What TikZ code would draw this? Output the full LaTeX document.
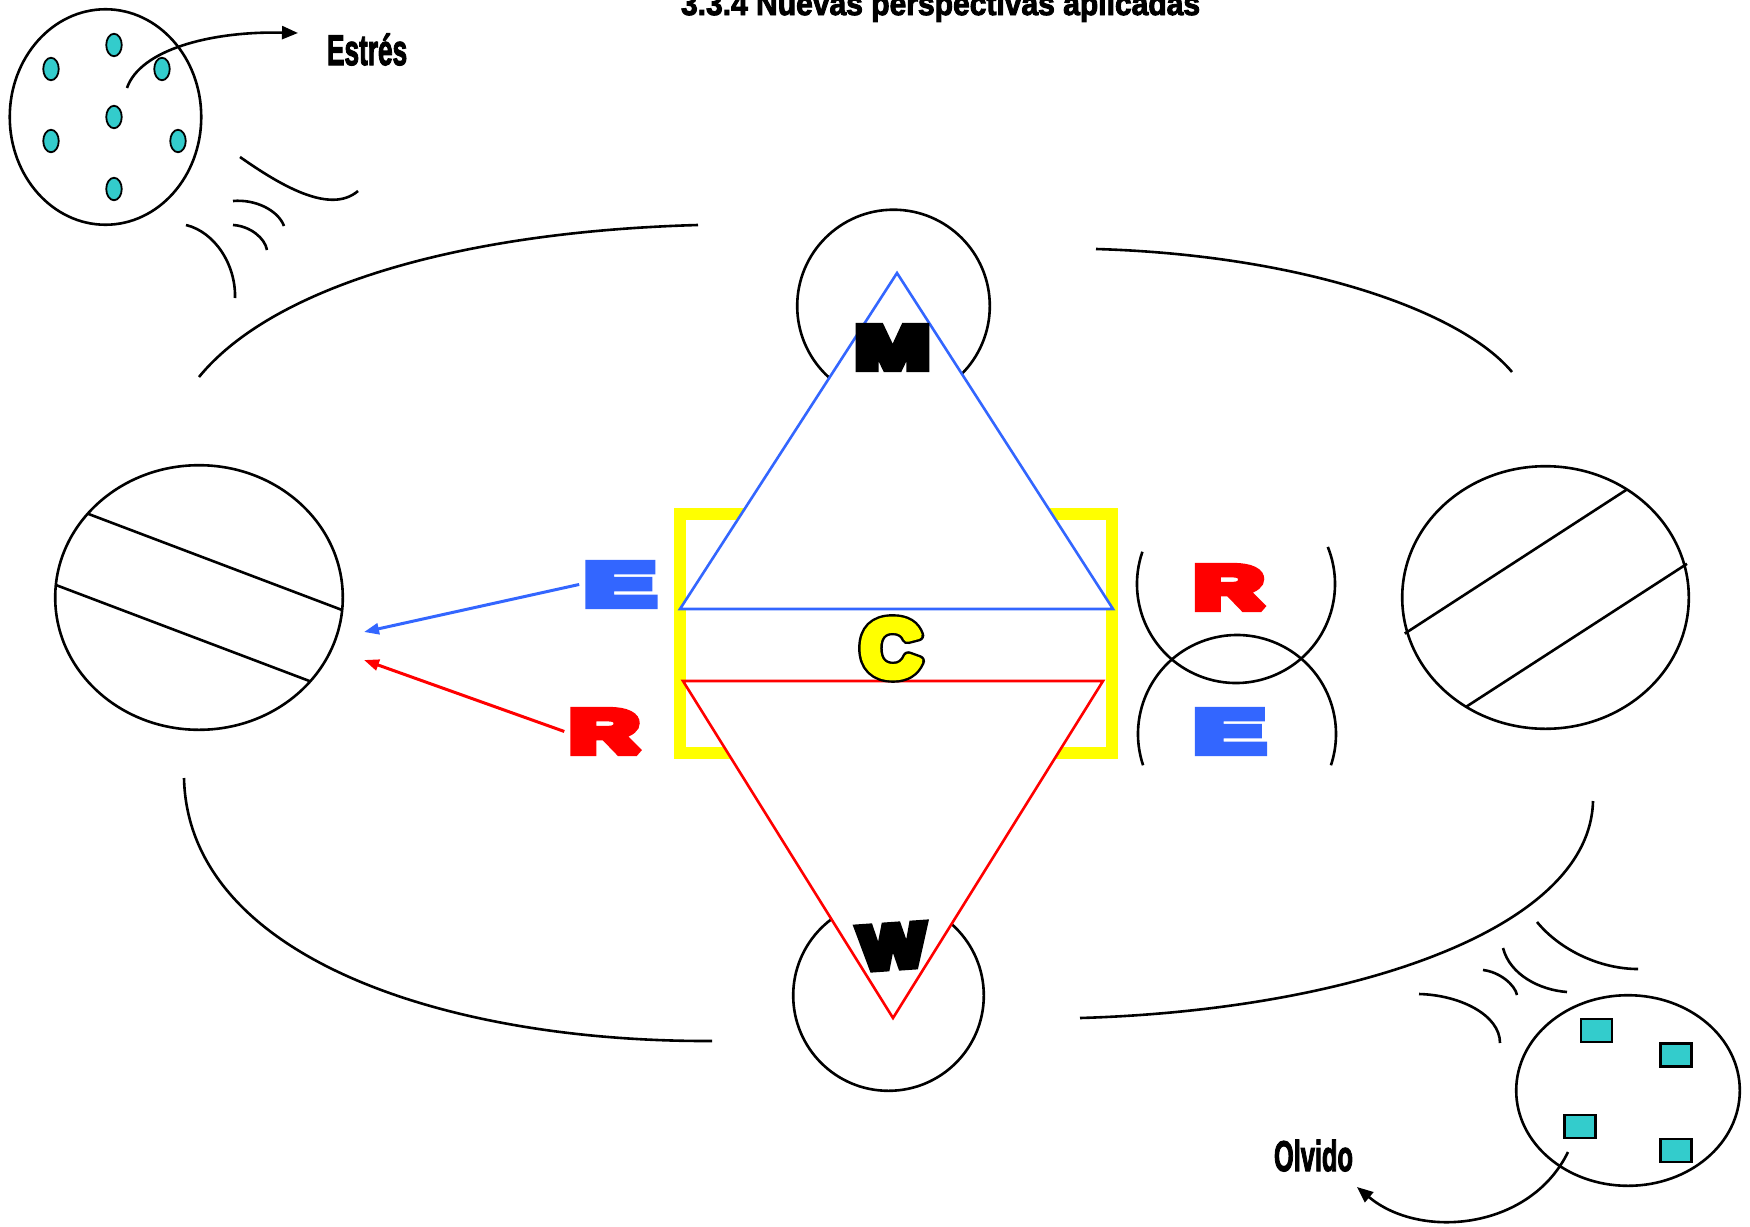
\documentclass[tikz,border=0pt]{standalone}
\usepackage{fontspec}
\usepackage{graphicx}
\usetikzlibrary{shapes.geometric,arrows.meta}
\setmainfont{Liberation Sans}
\newfontfamily\heavyfont{Liberation Sans}[FakeBold=13]
\newfontfamily\condfont{Liberation Sans}[FakeBold=3]
\newfontfamily\coutfont{Liberation Sans}[FakeBold=15]
\newfontfamily\cinfont{Liberation Sans}[FakeBold=9]
\definecolor{myblue}{RGB}{51,102,255}
\definecolor{myteal}{RGB}{51,204,204}
\definecolor{myyellow}{RGB}{255,255,0}
\definecolor{myred}{RGB}{255,0,0}
\tikzset{
  blk/.style={line width=2.6pt, black},
  bubble/.style={ellipse, draw=black, line width=2.6pt, inner sep=0pt, outer sep=0pt},
  dotnode/.style={ellipse, draw=black, line width=1.8pt, fill=myteal, minimum width=15.5pt, minimum height=22.5pt, inner sep=0pt},
  sqnode/.style={rectangle, draw=black, line width=2.2pt, fill=myteal, minimum width=31pt, minimum height=23pt, inner sep=0pt},
  bigletter/.style={inner sep=0pt, outer sep=6pt, anchor=base, line join=miter, miter limit=2, font=\heavyfont\bfseries\fontsize{60}{60}\selectfont},
  condtext/.style={inner sep=0pt, outer sep=0pt, anchor=base west, line join=miter, miter limit=2},
  tri/.style={line width=2.6pt, fill=white, line join=miter},
  tip/.style={-{Triangle[length=16pt,width=13pt]}},
}
\begin{document}
\begin{tikzpicture}[x=1pt,y=-1pt]
\fill[white] (0,0) rectangle (1750,1226);
\useasboundingbox (0,0) rectangle (1750,1226);

% title
\node[condtext, font=\condfont\bfseries\fontsize{33}{33}\selectfont] (title) at (681,15) {\scalebox{0.91}[1]{3.3.4 Nuevas perspectivas aplicadas}};

% top-left bubble with dots
\node[bubble, minimum width=191.5pt, minimum height=215.5pt] (tl) at (105.5,117) {};
\node[dotnode] (d1) at (114,45) {};
\node[dotnode] (d2) at (51,69) {};
\node[dotnode] (d3) at (162,69) {};
\node[dotnode] (d4) at (114,117) {};
\node[dotnode] (d5) at (51,141) {};
\node[dotnode] (d6) at (178,141) {};
\node[dotnode] (d7) at (114,189) {};
\node[condtext, font=\condfont\bfseries\fontsize{43}{43}\selectfont] (estres) at (327,65) {\scalebox{0.61}[1]{Estrés}};
\coordinate (estA) at (127,88);
\coordinate (estB) at (298,33);
\draw[blk, tip] (estA) .. controls (140,50) and (210,31) .. (estB);
% motion strokes top-left
\draw[blk] (240,157) .. controls (280,185) and (330,215) .. (358,191);
\draw[blk] (233,201) .. controls (255,199) and (278,210) .. (284,226);
\draw[blk] (233,225) .. controls (250,226) and (265,238) .. (267,250);
\draw[blk] (186,225) .. controls (215,232) and (236,265) .. (235,298);

% big orbit arcs
\draw[blk] (199,377) .. controls (270,290) and (450,232) .. (698,225);
\draw[blk] (1096,249) .. controls (1300,255) and (1460,310) .. (1512,372);
\draw[blk] (184,778) .. controls (188,955) and (440,1042) .. (712,1041);
\draw[blk] (1080,1018) .. controls (1350,1010) and (1590,930) .. (1593,801);

% left striped bubble
\node[bubble, minimum width=287.6pt, minimum height=264.6pt] (lc) at (199,597.5) {};
\draw[blk] (lc.143.3) -- (lc.-5);
\draw[blk] (lc.175.4) -- (lc.-37);
% right striped bubble
\node[bubble, minimum width=286.6pt, minimum height=262.6pt] (rc) at (1545.5,597.5) {};
\draw[blk, shorten <=-3pt] (rc.194.3) -- (rc.53.4);
\draw[blk, shorten >=-3pt] (rc.234.4) -- (rc.13.9);

% top and bottom bubbles
\node[bubble, circle, minimum size=192.6pt] (mc) at (893.5,306) {};
\node[bubble, circle, minimum size=190.6pt] (wc) at (888.5,995.5) {};

% yellow frame
\draw[myyellow, line width=12pt] (680,514) rectangle (1112,753);

% triangles
\draw[tri, draw=myblue] (897,273) -- (1113,609) -- (680,609) -- cycle;
\draw[tri, draw=myred] (683,681) -- (1103,681) -- (893,1018) -- cycle;

% right arcs
\draw[blk] (1236,584) ++(199:99) arc[start angle=199, end angle=-22, radius=99];
\draw[blk] (1237,734) ++(161.6:99) arc[start angle=161.6, end angle=378.4, radius=99];

% letters
\node[bigletter, text=myblue] (EL) at (620,605.1) {\scalebox{1.74}[1]{E}};
\node[bigletter, text=myred] (RL) at (604.5,752.1) {\scalebox{1.58}[1]{R}};
\node[bigletter, text=myred] (RR) at (1229,608.1) {\scalebox{1.58}[1]{R}};
\node[bigletter, text=myblue] (ER) at (1229.5,752.1) {\scalebox{1.74}[1]{E}};
\node[bigletter, text=black] (M) at (892.5,368.1) {\scalebox{1.48}[1]{M}};
\node[bigletter, text=black, anchor=center, rotate=4] (W) at (892.5,946.5) {\scalebox{1.15}[1]{W}};
\node[inner sep=0pt, anchor=base, line join=round, font=\coutfont\bfseries\fontsize{80}{80}\selectfont, text=black] (Cout) at (891,676) {\scalebox{1.04}[1]{C}};
\node[inner sep=0pt, anchor=base, line join=round, font=\cinfont\bfseries\fontsize{80}{80}\selectfont, text=myyellow] (C) at (891,676) {\scalebox{1.04}[1]{C}};

% arrows to left bubble
\coordinate (tipE) at (364,632);
\coordinate (tipR) at (364,660);
\draw[myblue, line width=3pt, -{Triangle[length=15pt,width=11pt]}] (EL.west) -- (tipE);
\draw[myred, line width=3pt, -{Triangle[length=15pt,width=11pt]}] (RL.west) -- (tipR);

% bottom-right bubble with squares
\node[bubble, minimum width=223.6pt, minimum height=190.6pt] (br) at (1628,1090.5) {};
\node[sqnode] (s1) at (1596.5,1030.5) {};
\node[sqnode] (s2) at (1676,1055) {};
\node[sqnode] (s3) at (1580,1126.5) {};
\node[sqnode] (s4) at (1676,1150.5) {};
\draw[blk] (1537,922) .. controls (1560,950) and (1600,969) .. (1638,969);
\draw[blk] (1503,948) .. controls (1510,975) and (1540,990) .. (1567,992);
\draw[blk] (1483,970) .. controls (1500,972) and (1515,985) .. (1517,995);
\draw[blk] (1419,994) .. controls (1460,995) and (1500,1015) .. (1500,1043);
\node[condtext, font=\condfont\bfseries\fontsize{43}{43}\selectfont] (olvido) at (1274,1171) {\scalebox{0.59}[1]{Olvido}};
\coordinate (olvA) at (1568,1152);
\coordinate (olvB) at (1357,1187);
\draw[blk, tip] (olvA) .. controls (1530,1230) and (1420,1240) .. (olvB);
\end{tikzpicture}
\end{document}
